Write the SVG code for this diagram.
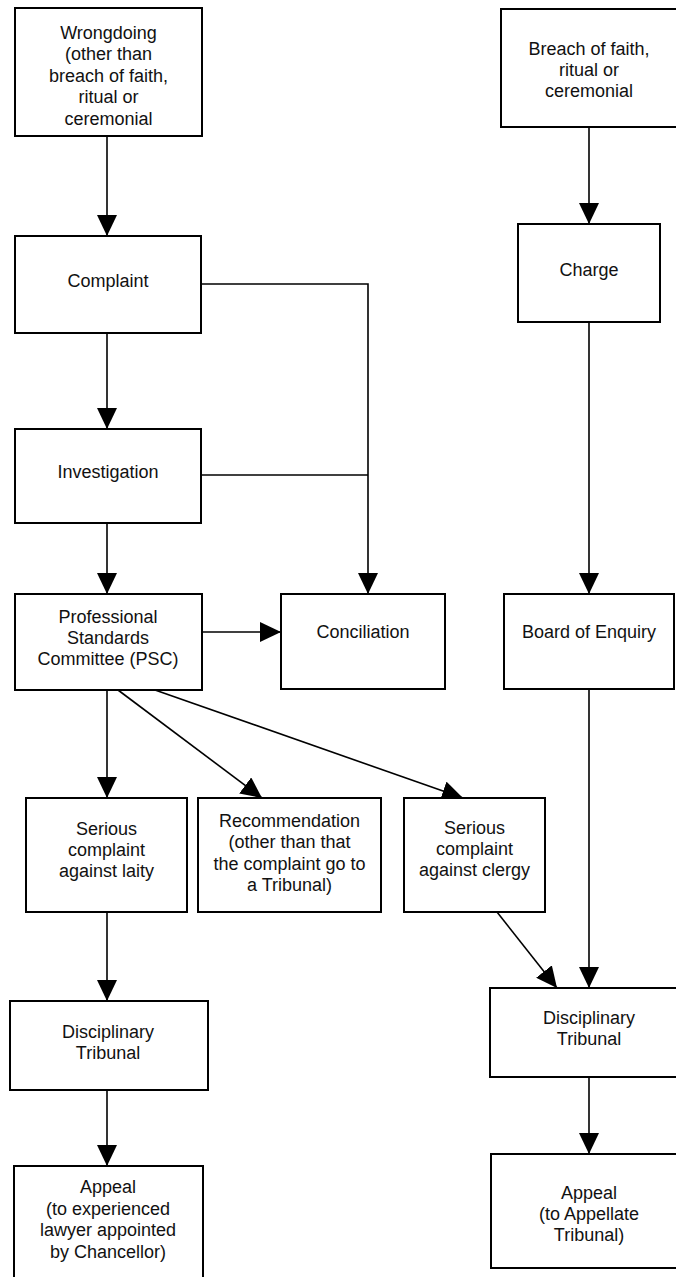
<svg xmlns="http://www.w3.org/2000/svg" width="676" height="1277" viewBox="0 0 676 1277">
<style>
.box{fill:#fff;stroke:#000;stroke-width:2}
.t{font-family:"Liberation Sans",Arial,sans-serif;font-size:18px;fill:#111;text-anchor:middle}
.c{fill:none;stroke:#000;stroke-width:1.6}
</style>
<defs>
<marker id="ah" markerUnits="userSpaceOnUse" markerWidth="21" markerHeight="20" refX="21" refY="10" orient="auto">
<path d="M0,0 L21,10 L0,20 z" fill="#000"/>
</marker>
</defs>
<rect width="676" height="1277" fill="#fff"/>
<g id="connectors">
<line class="c" x1="107" y1="136" x2="107" y2="236" marker-end="url(#ah)"/>
<line class="c" x1="107" y1="333" x2="107" y2="429" marker-end="url(#ah)"/>
<line class="c" x1="107" y1="523" x2="107" y2="594" marker-end="url(#ah)"/>
<line class="c" x1="107" y1="690" x2="107" y2="798" marker-end="url(#ah)"/>
<line class="c" x1="107" y1="912" x2="107" y2="1001" marker-end="url(#ah)"/>
<line class="c" x1="107" y1="1090" x2="107" y2="1166" marker-end="url(#ah)"/>
<polyline class="c" points="201,284 368,284 368,594" marker-end="url(#ah)"/>
<line class="c" x1="201" y1="475" x2="368" y2="475"/>
<line class="c" x1="202" y1="632" x2="281" y2="632" marker-end="url(#ah)"/>
<line class="c" x1="118" y1="690" x2="262" y2="798" marker-end="url(#ah)"/>
<line class="c" x1="155" y1="690" x2="463" y2="798" marker-end="url(#ah)"/>
<line class="c" x1="589" y1="127" x2="589" y2="224" marker-end="url(#ah)"/>
<line class="c" x1="589" y1="322" x2="589" y2="594" marker-end="url(#ah)"/>
<line class="c" x1="589" y1="689" x2="589" y2="988" marker-end="url(#ah)"/>
<line class="c" x1="497" y1="912" x2="557" y2="988" marker-end="url(#ah)"/>
<line class="c" x1="589" y1="1077" x2="589" y2="1154" marker-end="url(#ah)"/>
</g>
<g id="wrongdoing">
<rect class="box" x="15" y="8" width="187" height="128"/>
<text class="t" x="108.5" y="38.5"><tspan x="108.5">Wrongdoing</tspan><tspan x="108.5" dy="21.5">(other than</tspan><tspan x="108.5" dy="21.5">breach of faith,</tspan><tspan x="108.5" dy="21.5">ritual or</tspan><tspan x="108.5" dy="21.5">ceremonial</tspan></text>
</g>
<g id="breach">
<rect class="box" x="501" y="9" width="190" height="118"/>
<text class="t" x="589" y="54.5"><tspan x="589">Breach of faith,</tspan><tspan x="589" dy="21">ritual or</tspan><tspan x="589" dy="21">ceremonial</tspan></text>
</g>
<g id="complaint">
<rect class="box" x="15" y="236" width="186" height="97"/>
<text class="t" x="108" y="287">Complaint</text>
</g>
<g id="charge">
<rect class="box" x="518" y="224" width="142" height="98"/>
<text class="t" x="589" y="276">Charge</text>
</g>
<g id="investigation">
<rect class="box" x="15" y="429" width="186" height="94"/>
<text class="t" x="108" y="478">Investigation</text>
</g>
<g id="psc">
<rect class="box" x="15" y="594" width="187" height="96"/>
<text class="t" x="108" y="623"><tspan x="108">Professional</tspan><tspan x="108" dy="21">Standards</tspan><tspan x="108" dy="21">Committee (PSC)</tspan></text>
</g>
<g id="conciliation">
<rect class="box" x="281" y="594" width="164" height="95"/>
<text class="t" x="363" y="638">Conciliation</text>
</g>
<g id="board">
<rect class="box" x="504" y="594" width="170" height="95"/>
<text class="t" x="589" y="638">Board of Enquiry</text>
</g>
<g id="laity">
<rect class="box" x="26" y="798" width="161" height="114"/>
<text class="t" x="106.5" y="835"><tspan x="106.5">Serious</tspan><tspan x="106.5" dy="21">complaint</tspan><tspan x="106.5" dy="21">against laity</tspan></text>
</g>
<g id="recommendation">
<rect class="box" x="198" y="798" width="183" height="114"/>
<text class="t" x="289.5" y="827"><tspan x="289.5">Recommendation</tspan><tspan x="289.5" dy="21.3">(other than that</tspan><tspan x="289.5" dy="21.3">the complaint go to</tspan><tspan x="289.5" dy="21.3">a Tribunal)</tspan></text>
</g>
<g id="clergy">
<rect class="box" x="404" y="798" width="141" height="114"/>
<text class="t" x="474.5" y="834"><tspan x="474.5">Serious</tspan><tspan x="474.5" dy="21">complaint</tspan><tspan x="474.5" dy="21">against clergy</tspan></text>
</g>
<g id="tribunal-left">
<rect class="box" x="10" y="1001" width="198" height="89"/>
<text class="t" x="108" y="1038"><tspan x="108">Disciplinary</tspan><tspan x="108" dy="21">Tribunal</tspan></text>
</g>
<g id="tribunal-right">
<rect class="box" x="490" y="988" width="198" height="89"/>
<text class="t" x="589" y="1024"><tspan x="589">Disciplinary</tspan><tspan x="589" dy="21">Tribunal</tspan></text>
</g>
<g id="appeal-left">
<rect class="box" x="14" y="1166" width="189" height="130"/>
<text class="t" x="108" y="1193"><tspan x="108">Appeal</tspan><tspan x="108" dy="21.5">(to experienced</tspan><tspan x="108" dy="21.5">lawyer appointed</tspan><tspan x="108" dy="21.5">by Chancellor)</tspan></text>
</g>
<g id="appeal-right">
<rect class="box" x="491" y="1154" width="196" height="114"/>
<text class="t" x="589" y="1199"><tspan x="589">Appeal</tspan><tspan x="589" dy="21">(to Appellate</tspan><tspan x="589" dy="21">Tribunal)</tspan></text>
</g>
</svg>
